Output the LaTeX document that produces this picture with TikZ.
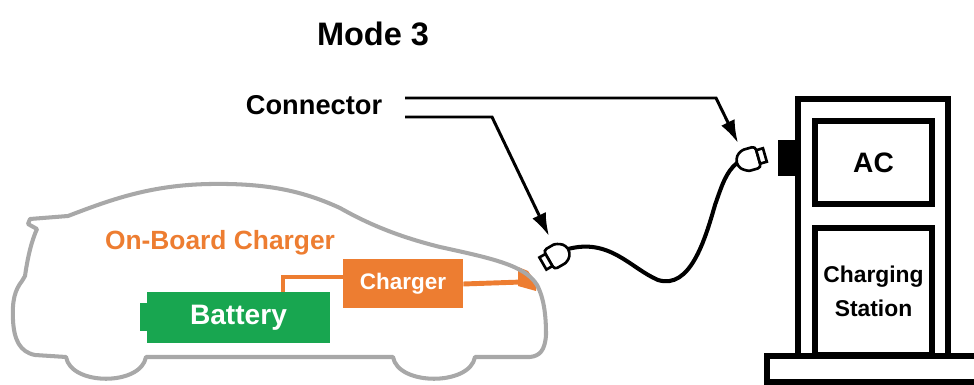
\documentclass[tikz,border=0pt]{standalone}
\usepackage{fontspec}
\setmainfont{Liberation Sans}
\usetikzlibrary{arrows.meta, positioning}

\definecolor{batgreen}{RGB}{24,166,80}
\definecolor{obcorange}{RGB}{237,125,49}
\definecolor{bodygray}{RGB}{168,168,168}

\tikzset{
  title/.style={font=\bfseries\fontsize{18.5}{22}\selectfont},
  callout/.style={line width=1.7pt, -{Latex[length=13pt,width=8.5pt]}},
  batterybox/.style={fill=batgreen, text=white, minimum width=36.6mm, minimum height=10.2mm,
    font=\bfseries\fontsize{16}{19}\selectfont},
  chargerbox/.style={fill=obcorange, text=white, minimum width=24mm, minimum height=9.8mm,
    font=\bfseries\fontsize{12.8}{15}\selectfont},
  obc/.style={draw=obcorange, line width=2.8pt},
  carbody/.style={draw=bodygray, line width=2.3pt, line join=round},
  panel/.style={draw, line width=3.4pt, minimum width=23.4mm, align=center},
  cable/.style={line width=2.3pt, line cap=round},
  plug/.pic={
    \draw[line width=1.5pt, fill=white, rounded corners=2pt]
      (0,-4) .. controls (5,-10) and (9,-11) .. (14,-11) -- (22,-11) -- (22,11) -- (14,11)
      .. controls (9,11) and (5,9) .. (0,4) -- cycle;
    \draw[line width=1.5pt, fill=white] (22,-7) rectangle (29,7);
  }
}

\begin{document}
\begin{tikzpicture}[x=0.2mm, y=-0.2mm]
  \useasboundingbox (0,0) rectangle (974,385);

  \node[title] (mode) at (373,34) {Mode 3};
  \node[font=\bfseries\fontsize{15.5}{18}\selectfont] (conn) at (314,105) {Connector};

  % car with the on-board charger
  \fill[obcorange] (518,267) -- (528,271) -- (537,284) -- (536,291) -- (518,286) -- cycle;
  \draw[carbody] (37,229) -- (28,224) -- (30,219) -- (68,216)
    .. controls (110,200) and (150,185) .. (210,184)
    .. controls (270,183) and (305,192) .. (340,208)
    .. controls (370,225) and (400,237) .. (440,247)
    .. controls (490,258) and (525,265) .. (537,285)
    .. controls (545,300) and (546,320) .. (546,335)
    .. controls (545,350) and (540,356) .. (530,357)
    -- (475,357) .. controls (470,386) and (398,386) .. (393,357)
    -- (146,357) .. controls (141,386) and (71,386) .. (66,357)
    -- (35,355) .. controls (20,352) and (14,340) .. (13,320)
    .. controls (12,300) and (15,290) .. (22,281) -- (25,276)
    .. controls (28,255) and (32,240) .. (37,229) -- cycle;

  \node[font=\bfseries\fontsize{15}{18}\selectfont, text=obcorange] (obclabel) at (220,243) {On-Board Charger};
  \fill[batgreen] (140,303) rectangle (149,331);
  \node[batterybox] (battery) at (238.5,317.5) {Battery};
  \node[chargerbox] (charger) at (403,284) {Charger};
  \coordinate (obcA) at (283,277);
  \coordinate (inlet) at (522,282);
  \draw[obc] (obcA |- battery.north) -- (obcA) -- (obcA -| charger.west);
  \draw[obc] (charger.east) -- (inlet);

  % charging station
  \draw[line width=3.4pt] (798,356) -- (798,99) -- (948,99) -- (948,356);
  \draw[line width=3.4pt] (767,356) rectangle (990,382);
  \fill (778,140) rectangle (796,176);
  \node[panel, minimum height=16.6mm, font=\bfseries\fontsize{16}{19}\selectfont] (ac) at (873.5,162.5) {AC};
  \node[panel, minimum height=25.4mm, font=\bfseries\fontsize{13}{19}\selectfont] (station) at (873.5,291.5) {Charging\\Station};

  % cable with its two plugs
  \coordinate (carend) at (568,249);
  \coordinate (evseend) at (737,163);
  \draw[cable] (carend) .. controls (610,238) and (630,268) .. (658,280)
    .. controls (690,290) and (705,240) .. (715,205)
    .. controls (722,185) and (726,172) .. (evseend);
  \pic[rotate=210] at (carend) {plug};
  \pic[rotate=16] at (evseend) {plug};

  \coordinate (lead1) at (405,98);
  \coordinate (lead2) at (405,117);
  \coordinate (bend1) at (716,98);
  \coordinate (bend2) at (492,117);
  \coordinate (tip1) at (738,143);
  \coordinate (tip2) at (549,236);
  \draw[callout] (lead1) -- (bend1) -- (tip1);
  \draw[callout] (lead2) -- (bend2) -- (tip2);
\end{tikzpicture}
\end{document}
